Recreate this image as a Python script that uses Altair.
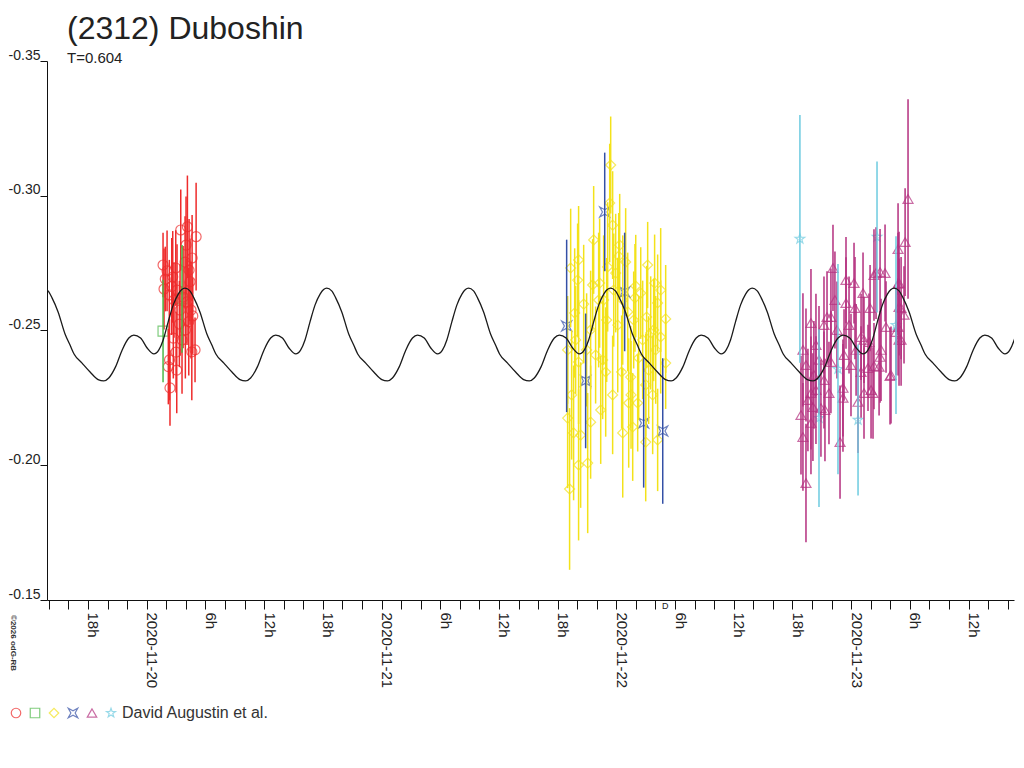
import altair as alt
import pandas as pd

BASE_MS = int(pd.Timestamp("2020-11-20T00:00:00Z").value // 10**6)
H = 3600000.0

# ---- observations: hours after 2020-11-20 00:00 UT, relative magnitude, error ----
a_h = [1.67, 1.77, 1.90, 2.08, 2.21, 2.31, 2.33, 2.38, 2.56, 2.66, 2.72, 2.79, 2.97, 3.00, 3.07, 3.10, 3.34, 3.41,
       3.48, 3.61, 3.72, 3.92, 3.95, 4.02, 4.12, 4.16, 4.30, 4.33, 4.43, 4.53, 4.61, 4.64, 4.71, 4.94, 5.05]
a_mag = [-0.2743, -0.2654, -0.2691, -0.2721, -0.2366, -0.2632, -0.2391, -0.2287, -0.2663, -0.2699, -0.2472, -0.2613,
         -0.2732, -0.2420, -0.2353, -0.2650, -0.2524, -0.2576, -0.2873, -0.2465, -0.2624, -0.2754, -0.2502, -0.2817,
         -0.2606, -0.2885, -0.2533, -0.2724, -0.2681, -0.2576, -0.2421, -0.2769, -0.2554, -0.2428, -0.2848]
a_err = [0.012, 0.015, 0.012, 0.015, 0.014, 0.013, 0.015, 0.014, 0.018, 0.017, 0.015, 0.014, 0.014, 0.015, 0.016, 0.017,
         0.016, 0.017, 0.015, 0.020, 0.019, 0.017, 0.018, 0.018, 0.016, 0.019, 0.020, 0.019, 0.016, 0.018, 0.018, 0.016,
         0.014, 0.012, 0.020]

b_h = [1.67, 3.61]
b_mag = [-0.2498, -0.2617]
b_err = [0.019, 0.020]

c_h = [47.42, 47.32, 47.62, 48.34, 48.24, 44.14, 51.20, 47.11, 47.93, 44.04, 45.58, 46.29, 49.98, 50.49, 44.66, 49.90,
       52.22, 43.74, 53.04, 49.16, 48.14, 51.10, 51.51, 43.02, 44.14, 46.60, 45.88, 46.91, 48.54, 49.46, 50.28, 53.04,
       51.30, 51.71, 49.50, 49.26, 50.18, 43.02, 45.37, 43.63, 44.35, 48.65, 49.67, 51.00, 52.22, 44.14, 45.07, 43.22,
       51.81, 52.53, 43.84, 45.37, 46.19, 47.01, 47.73, 48.65, 49.77, 50.69, 52.02, 52.53, 44.96, 43.43, 46.40, 47.62,
       51.00, 43.33, 45.68, 51.91, 48.95, 46.70]
c_mag = [-0.3114, -0.2973, -0.2891, -0.2817, -0.2776, -0.2762, -0.2743, -0.2736, -0.2713, -0.2687, -0.2669, -0.2676,
         -0.2665, -0.2639, -0.2598, -0.2621, -0.2602, -0.2565, -0.2543, -0.2569, -0.2520, -0.2550, -0.2491, -0.2428,
         -0.2383, -0.2391, -0.2409, -0.2346, -0.2346, -0.2327, -0.2398, -0.2379, -0.2353, -0.2261, -0.2261, -0.2231,
         -0.2231, -0.2175, -0.2160, -0.2120, -0.2112, -0.2120, -0.2142, -0.2086, -0.2094, -0.2001, -0.2008, -0.1912,
         -0.2502, -0.2476, -0.2465, -0.2502, -0.2613, -0.2539, -0.2650, -0.2613, -0.2539, -0.2465, -0.2428, -0.2650,
         -0.2428, -0.2261, -0.2205, -0.2261, -0.2298, -0.2732, -0.2836, -0.2676, -0.2754, -0.2613]
c_err = [0.018, 0.022, 0.020, 0.019, 0.016, 0.020, 0.016, 0.024, 0.022, 0.021, 0.017, 0.024, 0.019, 0.017, 0.022, 0.020,
         0.018, 0.024, 0.020, 0.022, 0.025, 0.019, 0.021, 0.020, 0.023, 0.022, 0.018, 0.024, 0.021, 0.019, 0.023, 0.017,
         0.020, 0.022, 0.020, 0.024, 0.018, 0.026, 0.021, 0.025, 0.027, 0.024, 0.020, 0.022, 0.019, 0.028, 0.026, 0.030,
         0.019, 0.021, 0.020, 0.022, 0.025, 0.023, 0.021, 0.024, 0.018, 0.022, 0.020, 0.023, 0.021, 0.024, 0.020, 0.022,
         0.019, 0.022, 0.020, 0.018, 0.020, 0.024]

d_h = [42.92, 44.86, 46.81, 48.85, 50.79, 52.74]
d_mag = [-0.2517, -0.2313, -0.2940, -0.2643, -0.2157, -0.2127]
d_err = [0.032, 0.025, 0.022, 0.022, 0.024, 0.027]

e_h = [70.14, 71.47, 72.29, 73.21, 70.34, 71.47, 72.39, 69.53, 69.93, 73.93, 74.54, 74.95, 75.46, 76.79, 77.51, 77.81,
       76.89, 76.89, 67.89, 69.22, 73.01, 73.82, 71.27, 69.93, 67.38, 68.19, 69.22, 73.01, 73.72, 74.85, 74.95, 75.05,
       76.07, 76.89, 77.40, 76.58, 71.16, 71.16, 69.73, 67.89, 67.58, 73.31, 74.03, 72.70, 66.87, 68.09, 68.91, 67.07,
       70.86, 67.38, 67.89, 74.33, 77.10, 76.79, 75.56, 73.31, 77.10, 74.33, 75.97, 74.23, 76.79, 67.07, 68.40, 68.71,
       71.78, 71.98, 70.55, 72.50, 68.40, 69.32]
e_mag = [-0.2732, -0.2687, -0.2676, -0.2639, -0.2613, -0.2602, -0.2583, -0.2550, -0.2550, -0.2583, -0.2713, -0.2717,
         -0.2713, -0.2802, -0.2828, -0.2988, -0.2676, -0.2587, -0.2528, -0.2520, -0.2476, -0.2457, -0.2409, -0.2383,
         -0.2372, -0.2335, -0.2316, -0.2346, -0.2361, -0.2365, -0.2402, -0.2428, -0.2335, -0.2465, -0.2558, -0.2494,
         -0.2287, -0.2250, -0.2268, -0.2268, -0.2242, -0.2268, -0.2279, -0.2235, -0.2186, -0.2216, -0.2212, -0.2105,
         -0.2086, -0.1934, -0.2157, -0.2706, -0.2583, -0.2513, -0.2513, -0.2465, -0.2465, -0.2368, -0.2331, -0.2268,
         -0.2673, -0.2428, -0.2446, -0.2391, -0.2520, -0.2372, -0.2502, -0.2428, -0.2279, -0.2205]
e_err = [0.016, 0.016, 0.015, 0.015, 0.018, 0.017, 0.019, 0.017, 0.018, 0.016, 0.017, 0.016, 0.018, 0.017, 0.020, 0.037,
         0.019, 0.018, 0.020, 0.018, 0.016, 0.018, 0.017, 0.019, 0.021, 0.020, 0.018, 0.017, 0.016, 0.018, 0.017, 0.019,
         0.018, 0.017, 0.018, 0.016, 0.018, 0.020, 0.019, 0.021, 0.019, 0.017, 0.018, 0.019, 0.022, 0.020, 0.018, 0.020,
         0.021, 0.022, 0.019, 0.017, 0.019, 0.018, 0.017, 0.016, 0.017, 0.016, 0.018, 0.017, 0.019, 0.021, 0.019, 0.020,
         0.018, 0.019, 0.018, 0.017, 0.020, 0.019]

f_h = [66.76, 74.64, 70.65, 68.71, 72.70, 76.58]
f_mag = [-0.2840, -0.2847, -0.2357, -0.2175, -0.2168, -0.2520]
f_err = [0.046, 0.028, 0.039, 0.033, 0.028, 0.033]

# ---- model curve: one period (T = 0.604 d) ----
PERIOD_H = 0.604 * 24
EPOCH_H = 3.9
curve_phase_h = [0.00, 0.51, 0.92, 1.54, 2.25, 2.76, 3.17, 3.99, 4.81, 5.63, 6.21, 6.72, 7.41, 8.09, 8.77, 9.28,
                 9.97, 10.64, 11.33, 11.84, 12.28, 12.79, 13.31, 13.82, 14.18]
curve_mag = [-0.2657, -0.2647, -0.2621, -0.2569, -0.2487, -0.2446, -0.2413, -0.2379, -0.2346, -0.2318, -0.2313,
             -0.2324, -0.2365, -0.2428, -0.2472, -0.2483, -0.2472, -0.2435, -0.2413, -0.2428, -0.2465, -0.2532,
             -0.2595, -0.2635, -0.2652]

X0_H, X1_H = -10.19, 88.64
groups = ["a", "b", "c", "d", "e", "f"]
colors = ["#ee2b2b", "#4cb848", "#f3e21a", "#3450a6", "#b4307f", "#6dcbe0"]
STAR4 = "M-1,-1L0,-0.45L1,-1L0.45,0L1,1L0,0.45L-1,1L-0.45,0Z"
STAR5 = ("M0,-1L0.235,-0.324L0.951,-0.309L0.38,0.124L0.588,0.809L0,0.4L-0.588,0.809"
         "L-0.38,0.124L-0.951,-0.309L-0.235,-0.324Z")
shapes = ["circle", "square", "diamond", STAR4, "triangle-up", STAR5]

rows = []
for g, hs, ms, es in [("a", a_h, a_mag, a_err), ("b", b_h, b_mag, b_err), ("c", c_h, c_mag, c_err),
                      ("d", d_h, d_mag, d_err), ("e", e_h, e_mag, e_err), ("f", f_h, f_mag, f_err)]:
    for h, m, e in zip(hs, ms, es):
        rows.append({"t": BASE_MS + h * H, "mag": m, "lo": m - e, "hi": m + e, "grp": g})
df = pd.DataFrame(rows)

crow = []
for k in range(-2, 8):
    for p, m in zip(curve_phase_h, curve_mag):
        h = EPOCH_H + k * PERIOD_H + p
        if X0_H - 2 <= h <= X1_H + 2:
            crow.append({"t": BASE_MS + h * H, "mag": m})
cdf = pd.DataFrame(crow)

FONT = "Liberation Sans"
xscale = alt.Scale(type="utc", domain=[BASE_MS + X0_H * H, BASE_MS + X1_H * H], nice=False)
xaxis = alt.Axis(
    values=[BASE_MS + h * H for h in range(-10, 89, 2)],
    labelExpr="utchours(datum.value) == 0 ? utcFormat(datum.value, '%Y-%m-%d') : "
              "(utchours(datum.value) % 6 == 0 ? utchours(datum.value) + 'h' : '')",
    labelAngle=90, labelAlign="left", labelBaseline="alphabetic", labelFlush=False, labelOverlap=False,
    labelFont=FONT, labelFontSize=15, labelColor="#222", labelPadding=3,
    tickSize=9, tickColor="#111", domainColor="#111", grid=False, title=None)
yscale = alt.Scale(domain=[-0.35, -0.15], reverse=True, nice=False, zero=False)
yaxis = alt.Axis(
    values=[-0.35, -0.30, -0.25, -0.20, -0.15],
    labelExpr="(datum.value < 0 ? '-' : '') + format(abs(datum.value), '.2f')",
    labelAlign="right", labelBaseline="alphabetic", labelOffset=-2, labelPadding=0,
    labelFlush=False, labelOverlap=False,
    labelFont=FONT, labelFontSize=14, labelColor="#222",
    tickSize=7, tickColor="#111", domainColor="#111", grid=False, title=None)

X = alt.X("t:T", scale=xscale, axis=xaxis)
cscale = alt.Scale(domain=groups, range=colors)
sscale = alt.Scale(domain=groups, range=shapes)
leg = alt.Legend(title=None, orient="none", legendX=-39, legendY=644, direction="horizontal",
                 labelExpr="datum.label == 'f' ? 'David Augustin et al.' : ''",
                 labelFont=FONT, labelFontSize=16, labelColor="#333", symbolSize=90, symbolStrokeWidth=1.2,
                 labelOffset=3, columnPadding=-12)

rules = alt.Chart(df).mark_rule(strokeWidth=1.5).encode(
    x=X, y=alt.Y("lo:Q", scale=yscale, axis=yaxis), y2="hi:Q",
    stroke=alt.Stroke("grp:N", scale=cscale, legend=None))
points = alt.Chart(df).mark_point(filled=False, size=100, strokeWidth=1.2).encode(
    x=X, y=alt.Y("mag:Q", scale=yscale, axis=yaxis),
    color=alt.Color("grp:N", scale=cscale, legend=leg),
    shape=alt.Shape("grp:N", scale=sscale, legend=leg))
curve = alt.Chart(cdf).mark_line(color="#1a1a1a", strokeWidth=1.3, clip=True, interpolate="monotone").encode(
    x=X, y=alt.Y("mag:Q", scale=yscale, axis=yaxis))
dmark = alt.Chart(pd.DataFrame({"t": [BASE_MS + 53.0 * H], "txt": ["D"]})).mark_text(
    font=FONT, fontSize=9, color="#222", baseline="middle").encode(x=X, y=alt.value(545), text="txt:N")
copy = alt.Chart(pd.DataFrame({"txt": ["\u00a92026 odG-RB"]})).mark_text(
    angle=90, align="left", baseline="alphabetic", font=FONT, fontSize=8, fontWeight="bold", color="#333").encode(
    x=alt.value(-36), y=alt.value(554), text="txt:N")

chart = alt.layer(points, rules, curve, dmark, copy).properties(
    width=967, height=539,
    title=alt.TitleParams("(2312) Duboshin", subtitle="T=0.604", anchor="start", frame="group", dx=20,
                          offset=-19, font=FONT, fontSize=32, fontWeight="normal", color="#222",
                          subtitleFont=FONT, subtitleFontSize=15, subtitleColor="#222", subtitlePadding=5),
    autosize=alt.AutoSizeParams(type="none"),
    padding={"left": 39, "top": 53, "right": 2, "bottom": 130},
).configure_view(stroke=None).configure_axis(grid=False)

chart.save("out.html", embed_options={"renderer": "svg", "actions": False})
